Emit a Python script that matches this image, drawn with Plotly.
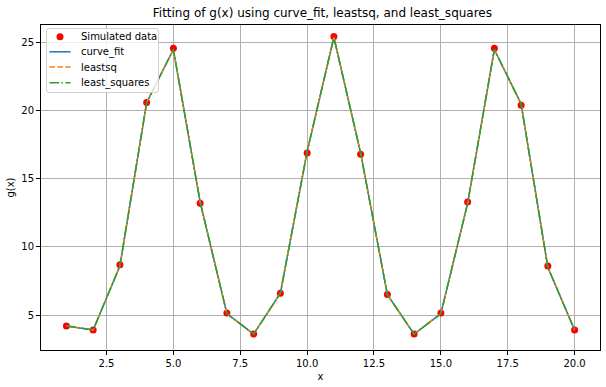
import plotly.graph_objects as go

x_vals = list(range(1, 21))
sim_data = [4.2, 3.9, 8.7, 20.6, 24.6, 13.2, 5.15, 3.6, 6.6, 16.9, 25.45, 16.8, 6.5, 3.6, 5.15, 13.3, 24.6, 20.4, 8.6, 3.9]
fit_curve_fit = [4.2, 3.9, 8.6, 20.6, 24.5, 13.3, 5.1, 3.6, 6.6, 17.0, 25.4, 16.9, 6.5, 3.6, 5.1, 13.2, 24.5, 20.5, 8.5, 3.9]
fit_leastsq = fit_curve_fit
fit_least_squares = fit_curve_fit

x_ticks = [2.5, 5.0, 7.5, 10.0, 12.5, 15.0, 17.5, 20.0]
y_ticks = [5, 10, 15, 20, 25]

legend_labels = ["Simulated data", "curve_fit", "leastsq", "least_squares"]

font = "DejaVu Sans"
C_BLUE, C_ORANGE, C_GREEN = "#1f77b4", "#ff7f0e", "#2ca02c"
DASH = "5.5px,2.4px"
DASHDOT = "9.6px,2.4px,1.5px,2.4px"

fig = go.Figure()
fig.add_trace(go.Scatter(x=x_vals, y=sim_data, mode="markers", name=legend_labels[0],
                         marker=dict(color="red", size=7, line=dict(width=0))))
fig.add_trace(go.Scatter(x=x_vals, y=fit_curve_fit, mode="lines", name=legend_labels[1],
                         line=dict(color=C_BLUE, width=1.5)))
fig.add_trace(go.Scatter(x=x_vals, y=fit_leastsq, mode="lines", name=legend_labels[2],
                         line=dict(color=C_ORANGE, width=1.5, dash=DASH)))
fig.add_trace(go.Scatter(x=x_vals, y=fit_least_squares, mode="lines", name=legend_labels[3],
                         line=dict(color=C_GREEN, width=1.5, dash=DASHDOT)))

axis_common = dict(showline=True, linecolor="black", linewidth=1, mirror=True,
                   showgrid=True, gridcolor="#b0b0b0", gridwidth=0.8,
                   ticks="outside", ticklen=4, tickcolor="black", zeroline=False,
                   automargin=False,
                   tickfont=dict(family=font, size=10, color="black"))

fig.update_xaxes(range=[0.05, 20.95], tickvals=x_ticks, ticktext=[f"{v:.1f}" for v in x_ticks],
                 title=dict(text="x", font=dict(family=font, size=10, color="black"), standoff=4),
                 **axis_common)
fig.update_yaxes(range=[2.43, 26.3], tickvals=y_ticks,
                 title=dict(text="g(x)", font=dict(family=font, size=10, color="black"), standoff=4),
                 **axis_common)

# ---- custom matplotlib-like legend (paper coordinates of plot area) ----
W, H = 606, 387
ML, MR, MT, MB = 41, 6, 25, 37
PW, PH = W - ML - MR, H - MT - MB


def px(xp):
    return (xp - ML) / PW


def py(yp):
    return (H - MB - yp) / PH


bx0, bx1, by0, by1 = 46.5, 158.5, 28.5, 92.5
r = 2.5
path = (f"M {px(bx0 + r)},{py(by0)} L {px(bx1 - r)},{py(by0)} Q {px(bx1)},{py(by0)} {px(bx1)},{py(by0 + r)} "
        f"L {px(bx1)},{py(by1 - r)} Q {px(bx1)},{py(by1)} {px(bx1 - r)},{py(by1)} "
        f"L {px(bx0 + r)},{py(by1)} Q {px(bx0)},{py(by1)} {px(bx0)},{py(by1 - r)} "
        f"L {px(bx0)},{py(by0 + r)} Q {px(bx0)},{py(by0)} {px(bx0 + r)},{py(by0)} Z")
shapes = [dict(type="path", xref="paper", yref="paper", path=path,
               fillcolor="rgba(255,255,255,0.8)", line=dict(color="#d0d0d0", width=1))]

rows = [36.8, 51.8, 67.0, 82.8]
lx0, lx1, tx = 49.5, 70.5, 78.5
# marker entry
mr = 3.5
shapes.append(dict(type="circle", xref="paper", yref="paper",
                   x0=px(60 - mr), x1=px(60 + mr), y0=py(rows[0] + mr), y1=py(rows[0] - mr),
                   fillcolor="red", line=dict(width=0)))
for yrow, col, dash in [(rows[1], C_BLUE, "solid"), (rows[2], C_ORANGE, DASH), (rows[3], C_GREEN, DASHDOT)]:
    shapes.append(dict(type="line", xref="paper", yref="paper",
                       x0=px(lx0), x1=px(lx1), y0=py(yrow), y1=py(yrow),
                       line=dict(color=col, width=1.5, dash=dash)))

annotations = [dict(text=lab, xref="paper", yref="paper", x=px(tx), y=py(yrow),
                    xanchor="left", yanchor="middle", showarrow=False,
                    font=dict(family=font, size=10, color="black"))
               for lab, yrow in zip(legend_labels, rows)]

fig.update_layout(
    width=W, height=H,
    margin=dict(l=ML, r=MR, t=MT, b=MB),
    paper_bgcolor="white", plot_bgcolor="white",
    title=dict(text="Fitting of g(x) using curve_fit, leastsq, and least_squares",
               x=0.532, xanchor="center", y=1 - 13 / 387, yanchor="middle",
               font=dict(family=font, size=12, color="black")),
    showlegend=False,
    shapes=shapes,
    annotations=annotations,
)

fig.write_html("out.html", config={"displayModeBar": False},
               post_script="document.body.style.margin='0';document.body.style.overflow='hidden';")
